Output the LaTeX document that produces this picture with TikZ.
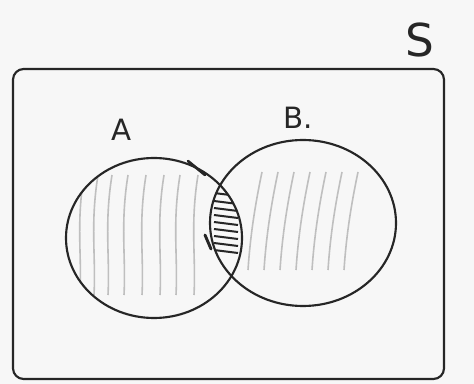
\documentclass[tikz,border=0pt]{standalone}
\usepackage{fontspec}
\setmainfont{DejaVu Sans}
\begin{document}
\begin{tikzpicture}[x=0.75pt,y=-0.75pt,
  pen/.style={line width=1.6pt,draw=black!85},
  shade/.style={line width=1.2pt,draw=black!25},
  dark/.style={line width=1.5pt,draw=black!85},
  lbl/.style={font=\fontsize{22}{22}\selectfont,text=black!85}]
\useasboundingbox (0,0) rectangle (474,384);
\fill[black!3] (0,0) rectangle (474,384);
% universe
\draw[pen,rounded corners=8pt] (13,69) rectangle (444,379);
\node[lbl,font=\fontsize{34}{34}\selectfont] (S) at (420,40) {S};
\node[lbl] (A) at (122,130) {A};
\node[lbl] (B) at (298,118) {B.};
% hatching in A only
\begin{scope}
  \clip (154,238) ellipse [x radius=88, y radius=80];
  \foreach \x in {80,94,108,124,142,160,176,194} {
    \draw[shade] (\x+4,175) .. controls (\x-4,225) and (\x+2,255) .. (\x,295);
  }
\end{scope}
% hatching in B
\begin{scope}
  \clip (303,223) ellipse [x radius=93, y radius=83];
  \foreach \x in {254,270,286,302,318,334,350} {
    \draw[shade] (\x+8,172) .. controls (\x,210) and (\x-4,240) .. (\x-6,270);
  }
\end{scope}
% intersection dark hatching
\begin{scope}
  \clip (154,238) ellipse [x radius=88, y radius=80];
  \clip (303,223) ellipse [x radius=93, y radius=83];
  \foreach \y in {193,201,208,215,222,229,236,243,250} {
    \draw[dark] (214,\y) -- (238,\y+3);
  }
\end{scope}
% circles
\draw[pen] (154,238) ellipse [x radius=88, y radius=80];
\draw[pen] (303,223) ellipse [x radius=93, y radius=83];
% pen marks
\draw[pen,line width=2pt,line cap=round] (188,161) -- (205,175);
\draw[pen,line width=2.2pt,line cap=round] (205,235) -- (211,249);
\end{tikzpicture}
\end{document}
